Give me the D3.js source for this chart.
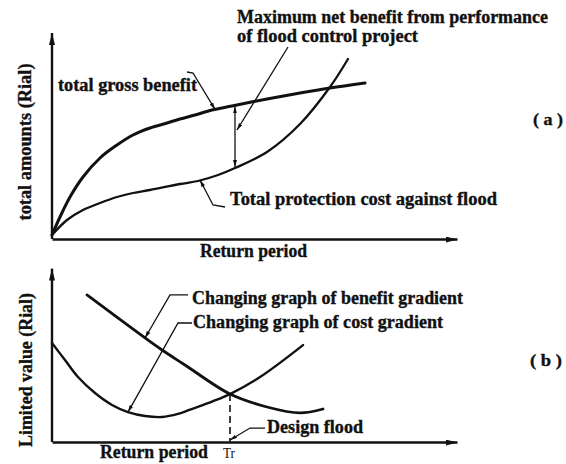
<!DOCTYPE html>
<html><head><meta charset="utf-8">
<script src="https://cdn.jsdelivr.net/npm/d3@7"></script>
<style>
html,body{margin:0;padding:0;background:#fff;}
svg{display:block;}
text{font-family:"Liberation Serif","Times New Roman",serif;font-weight:bold;fill:#111;stroke:#111;stroke-width:0.35px;}
</style></head>
<body>
<svg id="c" width="566" height="464"></svg>
<script>
// ---- Data (abstract units 0..100) ----
// Panel (a)
const benefitX = [0, 2, 4.5, 7.75, 12, 16.25, 20.25, 24.5, 28.75, 32, 35.75, 40, 45, 53.75, 62, 69.5, 78.25];
const benefitY = [2, 11, 21, 31, 40.5, 47, 52, 55.5, 58, 60, 62, 64.5, 66.5, 70, 73, 75.5, 78];
const costX    = [0, 3.75, 7.75, 12, 16.25, 20.25, 24.5, 32, 36.5, 41.5, 45.75, 53.75, 62, 69.5, 74];
const costY    = [2, 9.5, 14.5, 18, 21, 23, 24.5, 27.5, 29, 32, 35.5, 43.5, 57.5, 76, 90];
// Panel (b)
const benefitGradX = [8.75, 23.25, 27.5, 33.25, 44.5, 53.75, 62, 67.75];
const benefitGradY = [86.5, 61.2, 54.1, 45.3, 28.2, 20.6, 17.1, 19.4];
const costGradX    = [0, 3.25, 6.5, 10.75, 15, 19, 23.25, 27.5, 31.5, 35.25, 40, 44.5, 52, 62.75];
const costGradY    = [58.2, 48.2, 38.2, 28.8, 21.8, 17.6, 15.3, 14.7, 16.5, 19.7, 23.8, 28.2, 38.2, 57];
// Annotations
const netX = 45.75, netTop = 66.8, netBottom = 35.5;
const designTr = 44.5, designValue = 28.2;
const leaderNet   = [[59, 96], [46.25, 54.5]];
const leaderGross = [[33.75, 83.5], [35.25, 83], [40.75, 64.8]];
const leaderCost  = [[43.25, 16], [40.25, 17], [37, 29.5]];
const leaderBGrad = [[34, 86.5], [29.5, 86.5], [23.25, 61.2]];
const leaderCGrad = [[35, 70], [31.5, 70], [19, 17.6]];
const leaderDesign= [[53.25, 8.2], [49.5, 8.2], [44.5, 1.2]];

const svg = d3.select("#c");
const x = d3.scaleLinear().domain([0, 100]).range([52, 452]);
const yA = d3.scaleLinear().domain([0, 100]).range([239, 39]);
const yB = d3.scaleLinear().domain([0, 100]).range([442, 272]);

const defs = svg.append("defs");
function marker(id, w, h) {
  defs.append("marker").attr("id", id).attr("viewBox", `0 0 ${w} ${h}`)
    .attr("refX", w).attr("refY", h / 2).attr("markerWidth", w).attr("markerHeight", h)
    .attr("markerUnits", "userSpaceOnUse").attr("orient", "auto")
    .append("path").attr("d", `M0,0L${w},${h/2}L0,${h}Z`).attr("fill", "#111");
}
marker("ax", 12, 6);
marker("ld", 7, 4);

// Axes
function axes(yScale, yTopVal) {
  const ax = d3.scaleLinear().domain([0, 101.25]).range([x(0), x(101.25)]);
  svg.append("g").attr("transform", `translate(0,${yScale(0)})`)
    .call(d3.axisBottom(ax).tickValues([]).tickSizeOuter(0))
    .call(g => g.select(".domain").attr("stroke", "#111").attr("stroke-width", 2.4).attr("marker-end", "url(#ax)"));
  const ay = d3.scaleLinear().domain([0, yTopVal]).range([yScale(0), yScale(yTopVal)]);
  svg.append("g").attr("transform", `translate(${x(0)},0)`)
    .call(d3.axisLeft(ay).tickValues([]).tickSizeOuter(0))
    .call(g => g.select(".domain").attr("d", `M0,${yScale(0)}V${yScale(yTopVal)}`)
      .attr("stroke", "#111").attr("stroke-width", 2.4).attr("marker-end", "url(#ax)"));
}
axes(yA, 103);
axes(yB, 102);

function curve(xs, ys, yScale, w) {
  const pts = xs.map((v, i) => [x(v), yScale(ys[i])]);
  svg.append("path").attr("d", d3.line().curve(d3.curveCatmullRom.alpha(0.5))(pts))
    .attr("fill", "none").attr("stroke", "#111").attr("stroke-width", w)
    .attr("stroke-linecap", "round");
}
curve(benefitX, benefitY, yA, 3);
curve(costX, costY, yA, 2.3);
curve(benefitGradX, benefitGradY, yB, 2.8);
curve(costGradX, costGradY, yB, 2.4);

function leader(pts, yScale) {
  svg.append("path").attr("d", d3.line()(pts.map(p => [x(p[0]), yScale(p[1])])))
    .attr("fill", "none").attr("stroke", "#111").attr("stroke-width", 1.3)
    .attr("marker-end", "url(#ld)");
}
// double arrow
const mid = (netTop + netBottom) / 2;
leader([[netX, mid], [netX, netTop - 0.5]], yA);
leader([[netX, mid], [netX, netBottom + 0.5]], yA);
leader(leaderNet, yA);
leader(leaderGross, yA);
leader(leaderCost, yA);
leader(leaderBGrad, yB);
leader(leaderCGrad, yB);
leader(leaderDesign, yB);

// dashed design line
svg.append("line").attr("x1", x(designTr)).attr("x2", x(designTr))
  .attr("y1", yB(designValue)).attr("y2", yB(0))
  .attr("stroke", "#111").attr("stroke-width", 1.6).attr("stroke-dasharray", "7,4");

// Labels
function label(t, px, py, w, size, opts = {}) {
  const el = svg.append("text").attr("x", px).attr("y", py).text(t)
    .style("font-size", size + "px");
  if (w) el.attr("textLength", w).attr("lengthAdjust", "spacingAndGlyphs");
  if (opts.rot) el.attr("transform", `rotate(-90,${px},${py})`).attr("text-anchor", "middle");
  if (opts.normal) el.style("font-weight", "normal").style("stroke-width", "0px");
  return el;
}
label("Maximum net benefit from performance", 237, 23, 311, 18);
label("of flood control project", 237, 42, 181, 18);
label("total gross benefit", 58, 91, 139, 18);
label("Total protection cost against flood", 230, 205, 267, 18);
label("( a )", 533, 125, 30, 17);
label("Return period", 200, 257, 107, 18);
label("total amounts (Rial)", 31, 142, 157, 18, {rot: true});
label("Changing graph of benefit gradient", 192, 304, 271, 18);
label("Changing graph of cost gradient", 193, 328, 250, 18);
label("( b )", 530, 366, 32, 17);
label("Design flood", 267, 433, 96, 18);
label("Return period", 100, 458, 108, 18);
label("Tr", 223, 458, 12, 14, {normal: true});
label("Limited value (Rial)", 32, 370, 154, 18, {rot: true});
</script>
</body></html>
